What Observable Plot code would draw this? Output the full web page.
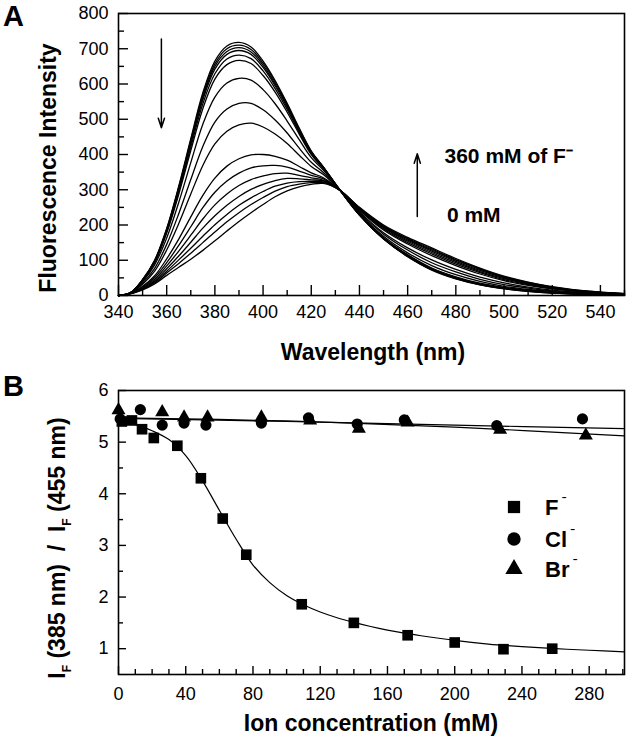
<!DOCTYPE html>
<html>
<head>
<meta charset="utf-8">
<script src="https://cdn.jsdelivr.net/npm/d3@7"></script>
<script src="https://cdn.jsdelivr.net/npm/@observablehq/plot@0.6"></script>
<style>
  html, body { margin: 0; padding: 0; background: #fff; }
  #wrap { width: 630px; height: 750px; background: #fff; }
  #wrap svg { display: block; }
</style>
</head>
<body>
<div id="wrap"></div>
<script>
// ---------- Panel A data: fluorescence spectra (0 mM ... 360 mM F-) ----------
const wavelengths = [340,345,350,355,360,365,370,375,380,385,390,395,400,405,410,415,420,425,432,440,450,460,470,480,490,500,510,520,535,550];
const spec01 = [0,8,45,100,190,310,445,575,665,708,718,705,665,610,545,475,410,365,298,228,160,110,72,47,30,19,12,7,3,1];
const spec02 = [0,8,45,99,188,307,440,568,657,700,710,698,659,605,541,472,409,364,298,228,161,111,73,48,31,20,12,7,3,1];
const spec03 = [0,8,44,98,186,303,435,562,650,692,703,691,653,600,538,470,407,364,298,229,161,112,74,49,31,20,13,8,3,1];
const spec04 = [0,8,44,97,184,300,430,555,642,684,695,684,647,595,534,467,406,363,298,229,162,112,75,50,32,21,13,8,3,1];
const spec05 = [0,8,43,95,181,294,421,544,629,671,682,672,637,587,528,463,403,362,298,230,163,114,76,51,33,22,14,8,4,1];
const spec06 = [0,8,42,93,177,287,411,530,614,655,667,658,624,577,520,458,400,360,298,230,164,116,78,53,35,23,15,9,4,1];
const spec07 = [0,7,39,87,163,264,377,486,563,603,616,611,584,544,495,442,391,356,298,232,168,121,85,59,40,26,17,11,5,2];
const spec08 = [0,7,35,77,145,232,329,423,492,529,545,545,527,498,461,418,378,349,298,235,174,129,93,67,46,31,21,13,6,2];
const spec09 = [0,7,32,69,129,204,288,369,430,466,484,489,478,458,431,398,366,343,298,238,178,135,101,74,52,36,24,15,7,3];
const spec10 = [0,6,26,56,104,160,223,284,333,367,388,399,400,395,384,366,348,334,298,242,186,146,113,85,61,42,29,19,9,4];
const spec11 = [0,6,24,51,93,142,195,249,293,325,347,362,368,369,364,353,341,331,298,244,189,150,118,89,65,45,31,20,10,4];
const spec12 = [0,6,22,46,84,126,171,217,257,288,312,329,339,346,347,341,334,327,298,246,192,154,122,93,68,48,33,21,10,4];
const spec13 = [0,5,20,42,76,112,151,191,226,256,281,301,315,326,332,331,328,325,298,247,194,157,126,97,71,50,34,22,11,4];
const spec14 = [0,5,19,39,69,101,134,168,201,230,256,277,295,310,319,323,324,322,298,248,196,160,129,100,74,52,36,23,11,5];
const spec15 = [0,5,17,36,64,91,120,150,180,209,235,258,278,296,309,316,320,320,298,249,198,162,132,102,76,53,37,24,12,5];
const spec16 = [0,5,16,33,57,80,103,128,155,183,210,235,258,280,297,308,315,318,298,250,200,165,135,105,78,55,38,25,12,5];
const spectra = [spec01,spec02,spec03,spec04,spec05,spec06,spec07,spec08,spec09,spec10,spec11,spec12,spec13,spec14,spec15,spec16];

const xTicksA = [340,360,380,400,420,440,460,480,500,520,540];
const xMinorA = [350,370,390,410,430,450,470,490,510,530,550];
const yTicksA = [0,100,200,300,400,500,600,700,800];
const yMinorA = [50,150,250,350,450,550,650,750];

// ---------- Panel B data: I(385)/I(455) vs ion concentration ----------
const concF  = [2,8,14,21,35,49,62,76,109,140,172,200,229,258];
const ratioF = [5.40,5.42,5.25,5.08,4.93,4.30,3.52,2.82,1.86,1.50,1.26,1.12,0.99,1.00];
const concCl  = [1,13,26,39,52,85,113,142,170,225,276];
const ratioCl = [5.45,5.63,5.33,5.37,5.33,5.37,5.47,5.35,5.43,5.32,5.45];
const concBr  = [0,26,39,53,85,114,143,172,227,278];
const ratioBr = [5.62,5.58,5.48,5.48,5.48,5.42,5.26,5.38,5.24,5.13];

const fitConcF = [0,10,20,30,40,50,60,70,80,90,100,110,120,130,140,150,160,170,180,200,220,240,260,280,301];
const fitF     = [5.38,5.34,5.22,5.05,4.74,4.25,3.68,3.12,2.62,2.28,2.03,1.85,1.71,1.60,1.51,1.43,1.36,1.30,1.25,1.16,1.09,1.04,1.00,0.97,0.94];
const fitConcLin = [0,100,200,301];
const fitCl = [5.46,5.40,5.33,5.26];
const fitBr = [5.47,5.41,5.29,5.12];

const xTicksB = [0,40,80,120,160,200,240,280];
const xMinorB = [10,20,30,50,60,70,90,100,110,130,140,150,170,180,190,210,220,230,250,260,270,290,300];
const yTicksB = [1,2,3,4,5,6];
const yMinorB = [1.5,2.5,3.5,4.5,5.5];

// ---------- build ----------
const FONT = "'Liberation Sans', Arial, Helvetica, sans-serif";
const wrap = document.getElementById("wrap");

// Panel A
const A = {w: 630, h: 370, mt: 13, mb: 75, ml: 118, mr: 6};
const fwA = A.w - A.ml - A.mr, fhA = A.h - A.mt - A.mb;
const specRows = [];
spectra.forEach((s, k) => s.forEach((v, i) => specRows.push({w: wavelengths[i], I: v, k})));

const plotA = Plot.plot({
  width: A.w, height: A.h, marginTop: A.mt, marginBottom: A.mb, marginLeft: A.ml, marginRight: A.mr,
  x: {domain: [340, 550], label: null},
  y: {domain: [0, 800], label: null},
  style: {fontFamily: FONT, fontSize: "18px", color: "#000", background: "#fff", overflow: "visible"},
  marks: [
    Plot.line(specRows, {x: "w", y: "I", z: "k", stroke: "#000", strokeWidth: 1.3, curve: "catmull-rom"}),
    Plot.frame({stroke: "#000", strokeWidth: 1.6}),
    Plot.tickX(xTicksA, {x: d => d, insetTop: fhA - 10, stroke: "#000", strokeWidth: 1.4}),
    Plot.tickX(xMinorA, {x: d => d, insetTop: fhA - 5, stroke: "#000", strokeWidth: 1.4}),
    Plot.tickY(yTicksA, {y: d => d, insetRight: fwA - 10, stroke: "#000", strokeWidth: 1.4}),
    Plot.tickY(yMinorA, {y: d => d, insetRight: fwA - 6, stroke: "#000", strokeWidth: 1.4}),
    Plot.axisX({ticks: xTicksA, tickSize: 0, tickPadding: 10, fontSize: 18, label: null, tickFormat: d => String(d)}),
    Plot.axisY({ticks: yTicksA, tickSize: 0, tickPadding: 10, fontSize: 18, label: null, tickFormat: d => String(d)}),
    Plot.arrow([{x1: 357.8, y1: 728, x2: 357.8, y2: 476}], {x1: "x1", y1: "y1", x2: "x2", y2: "y2", stroke: "#000", strokeWidth: 1.5, headLength: 10, headAngle: 36}),
    Plot.arrow([{x1: 464, y1: 224, x2: 464, y2: 402}], {x1: "x1", y1: "y1", x2: "x2", y2: "y2", stroke: "#000", strokeWidth: 1.5, headLength: 10, headAngle: 36}),
    Plot.text([{x: 475.3, y: 396, t: "360 mM of F\u207B"}], {x: "x", y: "y", text: "t", textAnchor: "start", fontWeight: "bold", fontSize: 21, fill: "#000"}),
    Plot.text([{x: 476.3, y: 228, t: "0 mM"}], {x: "x", y: "y", text: "t", textAnchor: "start", fontWeight: "bold", fontSize: 21, fill: "#000"})
  ]
});

// Panel B
const B = {w: 630, h: 380, mt: 20, mb: 76, ml: 118, mr: 6};
const fwB = B.w - B.ml - B.mr, fhB = B.h - B.mt - B.mb;
const rows = (xs, ys) => xs.map((x, i) => ({c: x, r: ys[i]}));

const plotB = Plot.plot({
  width: B.w, height: B.h, marginTop: B.mt, marginBottom: B.mb, marginLeft: B.ml, marginRight: B.mr,
  x: {domain: [0, 301], label: null},
  y: {domain: [0.5, 6], label: null},
  style: {fontFamily: FONT, fontSize: "18px", color: "#000", background: "#fff", overflow: "visible"},
  marks: [
    Plot.line(rows(fitConcF, fitF), {x: "c", y: "r", stroke: "#000", strokeWidth: 1.2, curve: "catmull-rom"}),
    Plot.line(rows(fitConcLin, fitCl), {x: "c", y: "r", stroke: "#000", strokeWidth: 1.2, curve: "catmull-rom"}),
    Plot.line(rows(fitConcLin, fitBr), {x: "c", y: "r", stroke: "#000", strokeWidth: 1.2, curve: "catmull-rom"}),
    Plot.frame({stroke: "#000", strokeWidth: 1.6}),
    Plot.tickX(xTicksB, {x: d => d, insetTop: fhB - 8, stroke: "#000", strokeWidth: 1.4}),
    Plot.tickX(xMinorB, {x: d => d, insetTop: fhB - 5, stroke: "#000", strokeWidth: 1.4}),
    Plot.tickY(yTicksB, {y: d => d, insetRight: fwB - 8, stroke: "#000", strokeWidth: 1.4}),
    Plot.tickY(yMinorB, {y: d => d, insetRight: fwB - 5, stroke: "#000", strokeWidth: 1.4}),
    Plot.axisX({ticks: xTicksB, tickSize: 0, tickPadding: 13, fontSize: 18, label: null, tickFormat: d => String(d)}),
    Plot.axisY({ticks: yTicksB, tickSize: 0, tickPadding: 10, fontSize: 18, label: null, tickFormat: d => String(d)}),
    Plot.dot(rows(concF, ratioF), {x: "c", y: "r", symbol: "square", r: 6, fill: "#000", stroke: "none"}),
    Plot.dot(rows(concBr, ratioBr), {x: "c", y: "r", symbol: "triangle", r: 5.2, fill: "#000", stroke: "none"}),
    Plot.dot(rows(concCl, ratioCl), {x: "c", y: "r", symbol: "circle", r: 5.6, fill: "#000", stroke: "none"})
  ]
});

wrap.appendChild(plotA);
wrap.appendChild(plotB);

// ---------- titles, panel letters, legend ----------
const sA = d3.select(plotA), sB = d3.select(plotB);
function title(sel, txt, x, y, rot, size) {
  return sel.append("text")
    .attr("transform", `translate(${x},${y})` + (rot ? ` rotate(${rot})` : ""))
    .attr("text-anchor", "middle").attr("dy", "0.35em")
    .attr("font-family", FONT).attr("font-weight", "bold").attr("font-size", size || 23)
    .attr("fill", "#000").text(txt);
}
// Panel letters
sA.append("text").attr("x", 3).attr("y", 26).attr("text-anchor", "start").attr("font-family", FONT).attr("font-weight", "bold").attr("font-size", 29).attr("fill", "#000").text("A");
sB.append("text").attr("x", 3).attr("y", 26).attr("text-anchor", "start").attr("font-family", FONT).attr("font-weight", "bold").attr("font-size", 29).attr("fill", "#000").text("B");

title(sA, "Wavelength (nm)", 373, 352, 0);
title(sA, "Fluorescence Intensity", 48, 168, -90);
title(sB, "Ion concentration (mM)", 371, 353, 0);

// y label of B with subscripts
const yl = sB.append("text")
  .attr("transform", "translate(57,178) rotate(-90)")
  .attr("text-anchor", "middle").attr("dy", "0.35em")
  .attr("font-family", FONT).attr("font-weight", "bold").attr("font-size", 23).attr("fill", "#000");
yl.append("tspan").text("I");
yl.append("tspan").attr("font-size", 12).attr("dy", 6).text("F");
yl.append("tspan").attr("dy", -6).text("\u00A0(385 nm)\u00A0\u00A0/\u00A0\u00A0I");
yl.append("tspan").attr("font-size", 12).attr("dy", 6).text("F");
yl.append("tspan").attr("dy", -6).text("\u00A0(455 nm)");

// Legend
const legend = [
  {type: d3.symbolSquare, size: 150, y: 137, label: "F"},
  {type: d3.symbolCircle, size: 140, y: 169, label: "Cl"},
  {type: d3.symbolTriangle, size: 130, y: 199, label: "Br"}
];
legend.forEach(L => {
  sB.append("path").attr("d", d3.symbol().type(L.type).size(L.size)()).attr("transform", `translate(514,${L.y})`).attr("fill", "#000");
  const t = sB.append("text").attr("x", 545).attr("y", L.y).attr("dy", "0.36em").attr("text-anchor", "start")
    .attr("font-family", FONT).attr("font-weight", "bold").attr("font-size", 22).attr("fill", "#000");
  t.append("tspan").text(L.label);
  t.append("tspan").attr("font-size", 13).attr("dy", -9).text(" \u02C9");
});
</script>
</body>
</html>
